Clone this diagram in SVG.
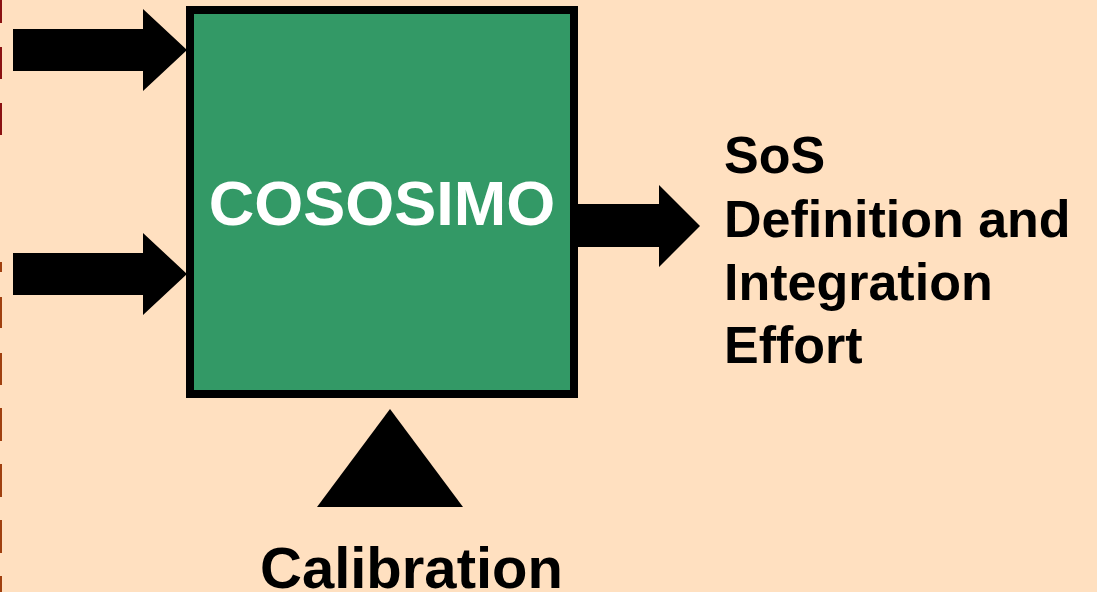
<svg xmlns="http://www.w3.org/2000/svg" width="1097" height="592" viewBox="0 0 1097 592">
<style>
.t{font-family:"Liberation Sans",Arial,sans-serif;font-weight:bold}
.arrow{fill:#000}
</style>
<rect width="1097" height="592" fill="#FFE0C0"/>
<g id="border-dashes">
<rect x="0" y="0" width="2" height="23" fill="#8B1111"/>
<rect x="0" y="47" width="2" height="32" fill="#8B1111"/>
<rect x="0" y="103" width="2" height="32" fill="#8B1111"/>
<rect x="0" y="262" width="2" height="10" fill="#A0400F"/>
<rect x="0" y="297" width="2" height="31" fill="#A0400F"/>
<rect x="0" y="353" width="2" height="32" fill="#A0400F"/>
<rect x="0" y="408" width="2" height="33" fill="#A0400F"/>
<rect x="0" y="464" width="2" height="33" fill="#A0400F"/>
<rect x="0" y="520" width="2" height="33" fill="#A0400F"/>
<rect x="0" y="576" width="2" height="16" fill="#A0400F"/>
</g>
<g id="connectors">
<polygon class="arrow" points="13,29 143,29 143,9 187,50 143,91 143,71 13,71"/>
<polygon class="arrow" points="13,253 143,253 143,233 187,274 143,315 143,295 13,295"/>
<polygon class="arrow" points="577,204 659,204 659,185 700,226 659,267 659,247 577,247"/>
<polygon class="arrow" points="390,409 463,507 317,507"/>
</g>
<g id="cososimo">
<rect x="190" y="10" width="384" height="384" fill="#339966" stroke="#000" stroke-width="8"/>
<text class="t" x="382" y="225" font-size="63" fill="#fff" text-anchor="middle">COSOSIMO</text>
</g>
<g id="output">
<text class="t" x="724" y="173" font-size="52" fill="#000">SoS</text>
<text class="t" x="724" y="236.5" font-size="52" fill="#000">Definition and</text>
<text class="t" x="724" y="300" font-size="52" fill="#000">Integration</text>
<text class="t" x="724" y="363" font-size="52" fill="#000">Effort</text>
</g>
<g id="calibration">
<text class="t" x="260" y="588" font-size="58" fill="#000">Calibration</text>
</g>
</svg>
